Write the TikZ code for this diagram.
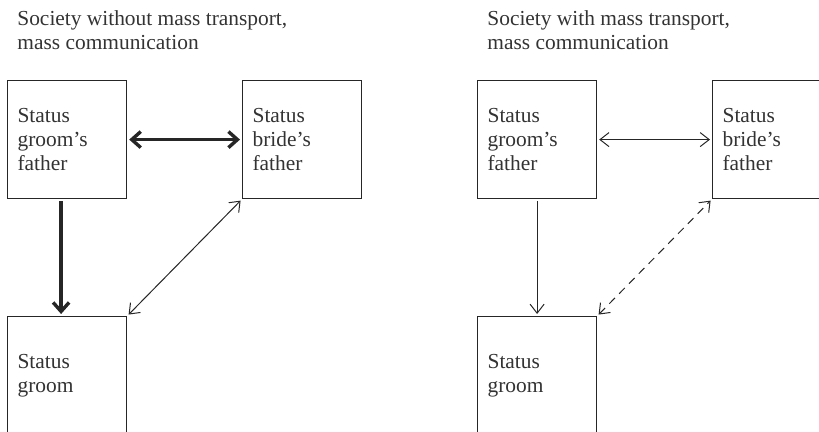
\documentclass[tikz,border=0pt]{standalone}
\usepackage{fontspec}
\setmainfont{Liberation Serif}
\usetikzlibrary{arrows.meta}

\begin{document}
\begin{tikzpicture}[x=0.5pt,y=-0.5pt,statusbox/.style={draw=black!85,line width=0.6pt,fill=white,anchor=north west,minimum width=59.5pt,minimum height=59pt,text width=49.5pt,inner xsep=5pt,inner ysep=0pt,align=left,font=\fontsize{10.7}{12}\selectfont,text=black!80},heading/.style={anchor=base west,inner sep=0pt,align=left,font=\fontsize{10.7}{12}\selectfont,text=black!80},heavy/.style={{Straight Barb[length=4.5pt,width=8pt]}-{Straight Barb[length=4.5pt,width=8pt]},line width=1.7pt,draw=black!85,shorten <=1pt,shorten >=1pt},light/.style={{Straight Barb[length=4.5pt,width=7pt]}-{Straight Barb[length=4.5pt,width=7pt]},line width=0.5pt,draw=black!85,shorten <=1pt,shorten >=1pt}]
\useasboundingbox (0,0) rectangle (819,432);\clip (0,0) rectangle (819,432);
% without mass transport
\node[heading] (headL) at (17,50) {Society without mass transport,\\mass communication};
\node[statusbox] (gfL) at (7,80) {Status\\groom’s\\father};\node[statusbox,minimum width=59pt] (bfL) at (242,80) {Status\\bride’s\\father};\node[statusbox] (grL) at (7,316) {Status\\groom};
\draw[heavy] (gfL.east)--(bfL.west);\draw[heavy,-{Straight Barb[length=4.5pt,width=8pt]}] ([xshift=-3]gfL.south)--([xshift=-3]grL.north);\draw[light] (grL.north east)--(bfL.south west);
% with mass transport
\node[heading] (headR) at (487,50) {Society with mass transport,\\mass communication};
\node[statusbox] (gfR) at (477,80) {Status\\groom’s\\father};\node[statusbox] (bfR) at (712,80) {Status\\bride’s\\father};\node[statusbox] (grR) at (477,316) {Status\\groom};
\draw[light] (gfR.east)--(bfR.west);\draw[light,-{Straight Barb[length=4.5pt,width=7pt]}] (gfR.south)--(grR.north);\draw[light,dashed,dash pattern=on 4pt off 3pt] (grR.north east)--(bfR.south west);
\end{tikzpicture}
\end{document}
